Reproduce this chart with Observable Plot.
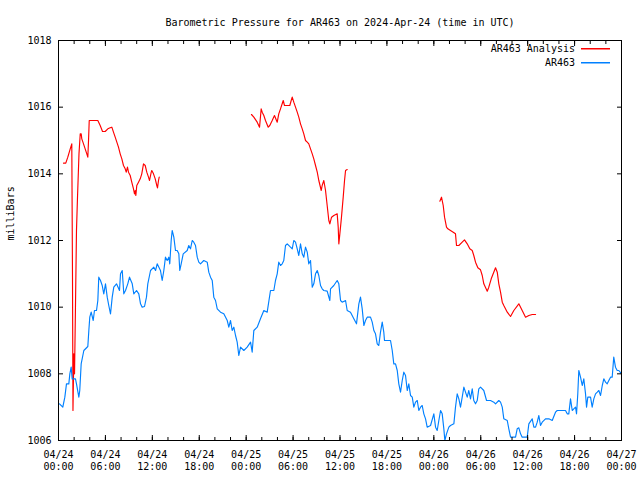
<!DOCTYPE html>
<html><head><meta charset="utf-8">
<script src="https://cdn.jsdelivr.net/npm/d3@7"></script>
<script src="https://cdn.jsdelivr.net/npm/@observablehq/plot@0.6"></script>
<style>
body{margin:0;background:#fff;}
#wrap{position:relative;width:640px;height:480px;font-family:"DejaVu Sans Mono",monospace;font-size:10px;color:#000;}
#legend{position:absolute;left:0;top:0;pointer-events:none;}
</style></head><body><div id="wrap"></div>
<script>
const title = "Barometric Pressure for AR463 on 2024-Apr-24 (time in UTC)";
const yLabel = "milliBars";
const seriesNames = ["AR463 Analysis", "AR463"];
const seriesColors = ["#ff0000", "#0080ff"];

const xTickHours = [0,6,12,18,24,30,36,42,48,54,60,66,72];
const xTickDates = ["04/24","04/24","04/24","04/24","04/25","04/25","04/25","04/25","04/26","04/26","04/26","04/26","04/27"];
const xTickTimes = ["00:00","06:00","12:00","18:00","00:00","06:00","12:00","18:00","00:00","06:00","12:00","18:00","00:00"];
const xMinorHours = [0,2,4,6,8,10,12,14,16,18,20,22,24,26,28,30,32,34,36,38,40,42,44,46,48,50,52,54,56,58,60,62,64,66,68,70,72];
const yTicks = [1006,1008,1010,1012,1014,1016,1018];

// AR463 observed: hours since 04/24 00:00 UTC
const blueHours = [0.13,0.55,0.81,1.02,1.32,1.45,1.62,1.75,2.17,2.30,2.60,2.72,2.90,3.24,3.75,3.88,4.00,4.18,4.44,4.60,4.86,5.03,5.15,5.37,5.59,5.79,6.01,6.23,6.43,6.65,6.87,7.07,7.42,7.80,7.93,8.15,8.35,8.57,8.86,9.08,9.43,9.63,9.98,10.27,10.49,10.70,11.00,11.25,11.42,11.77,12.19,12.41,12.62,13.04,13.26,13.47,13.68,13.90,14.11,14.23,14.41,14.54,14.75,14.96,15.18,15.39,15.51,15.69,15.95,16.46,16.66,16.88,17.10,17.30,17.52,17.74,17.94,18.16,18.58,19.02,19.22,19.44,19.66,19.86,20.08,20.30,20.72,21.14,21.58,21.78,22.00,22.21,22.42,22.64,22.85,23.06,23.28,23.70,24.13,24.56,24.77,24.98,25.41,25.83,26.26,26.69,27.11,27.54,27.75,27.97,28.17,28.39,28.61,28.81,29.03,29.25,29.67,29.89,30.09,30.31,30.53,30.73,30.95,31.17,31.37,31.59,31.81,32.01,32.23,32.45,32.65,32.87,33.09,33.29,33.51,33.72,33.93,34.36,34.70,34.79,35.21,35.64,35.85,36.07,36.28,36.71,36.92,37.34,37.77,38.11,38.41,38.62,38.84,39.05,39.26,39.48,39.90,40.12,40.33,40.54,40.76,40.96,41.18,41.40,41.60,41.69,42.46,42.68,42.88,43.10,43.32,43.52,43.74,43.96,44.16,44.38,44.60,44.80,45.02,45.24,45.44,45.66,45.88,46.08,46.30,46.51,46.72,46.94,47.15,47.58,48.00,48.22,48.43,48.64,48.86,49.07,49.28,49.41,49.62,49.92,50.13,50.56,50.77,50.99,51.20,51.41,51.63,51.84,52.05,52.27,52.47,52.69,52.91,53.11,53.33,53.55,53.75,53.97,54.39,54.74,55.25,55.67,55.89,56.31,56.53,56.75,56.95,57.39,57.59,57.81,58.45,58.66,58.87,59.09,59.30,59.94,60.15,60.58,60.79,61.01,61.22,61.43,61.64,61.86,62.28,62.71,63.14,63.56,63.78,64.84,65.06,65.26,65.48,65.70,65.90,66.12,66.25,66.41,66.54,66.76,66.98,67.18,67.40,67.53,67.69,68.04,68.25,68.46,68.68,68.90,69.10,69.32,69.54,69.74,69.96,70.17,70.38,70.60,70.81,71.01,71.23,71.45,71.66,72.00];
const bluePressure = [1007.10,1007.00,1007.30,1007.70,1007.70,1008.00,1008.20,1007.85,1007.85,1007.70,1007.30,1007.50,1008.30,1008.70,1008.82,1009.30,1009.70,1009.85,1009.60,1009.90,1009.90,1010.20,1010.90,1010.80,1010.65,1010.40,1010.70,1010.30,1010.05,1009.80,1010.30,1010.60,1010.70,1010.50,1011.00,1011.10,1010.40,1010.50,1010.70,1010.90,1010.70,1010.40,1010.50,1010.40,1010.10,1010.00,1010.02,1010.30,1010.70,1011.10,1011.20,1011.10,1011.30,1011.10,1010.80,1011.10,1011.50,1011.40,1011.50,1011.30,1012.00,1012.30,1012.10,1011.70,1011.70,1011.60,1011.10,1011.30,1011.60,1011.70,1011.85,1011.75,1012.00,1011.95,1011.85,1011.50,1011.35,1011.30,1011.40,1011.35,1011.05,1010.90,1010.80,1010.30,1010.20,1009.95,1009.85,1009.80,1009.60,1009.40,1009.60,1009.30,1009.40,1009.15,1008.95,1008.55,1008.80,1008.70,1008.80,1008.95,1008.65,1009.30,1009.40,1009.65,1009.90,1009.85,1010.50,1010.50,1010.80,1011.00,1011.35,1011.25,1011.30,1011.40,1011.85,1011.90,1011.80,1011.75,1012.00,1011.95,1011.75,1011.55,1011.90,1011.60,1011.50,1011.80,1011.65,1011.30,1011.40,1010.60,1010.70,1011.00,1011.10,1010.95,1010.65,1010.55,1010.50,1010.48,1010.20,1010.55,1010.65,1010.80,1010.70,1010.20,1010.15,1010.20,1009.90,1009.85,1009.65,1009.50,1010.10,1010.30,1009.95,1009.45,1009.60,1009.70,1009.70,1009.55,1009.30,1009.20,1008.90,1008.85,1009.25,1009.55,1009.25,1009.00,1009.00,1008.70,1008.30,1008.30,1008.10,1007.70,1007.45,1007.80,1008.05,1007.95,1007.50,1007.70,1007.35,1007.30,1007.00,1007.15,1007.20,1006.90,1007.00,1007.05,1006.80,1006.65,1006.40,1006.45,1006.80,1006.40,1006.30,1006.60,1006.90,1006.80,1006.35,1006.00,1006.20,1006.40,1006.45,1006.50,1007.00,1007.40,1007.25,1007.00,1007.30,1007.60,1007.45,1007.30,1007.50,1007.25,1007.55,1007.20,1007.10,1007.20,1007.55,1007.60,1007.50,1007.20,1007.20,1007.15,1007.10,1007.20,1007.15,1007.00,1006.65,1006.60,1006.35,1006.10,1006.10,1006.35,1006.38,1006.20,1006.10,1006.10,1006.50,1006.65,1006.40,1006.40,1006.55,1006.75,1006.45,1006.55,1006.65,1006.65,1006.60,1006.85,1006.90,1006.90,1006.80,1006.80,1007.25,1006.90,1006.95,1007.00,1006.80,1007.40,1008.10,1007.90,1007.65,1007.85,1007.40,1007.00,1007.30,1007.30,1007.00,1007.25,1007.40,1007.45,1007.50,1007.35,1007.65,1007.85,1007.75,1007.70,1007.80,1007.90,1007.90,1008.50,1008.20,1008.10,1008.10,1008.00];

// AR463 Analysis: null entries mark gaps between segments
const redHours = [0.64,0.93,1.19,1.50,1.70,1.79,1.85,1.96,2.05,2.17,2.30,2.43,2.62,2.78,2.90,2.98,3.20,3.41,3.62,3.75,3.84,3.93,5.03,5.33,5.63,5.97,6.31,6.61,6.82,7.03,7.25,7.46,7.67,7.89,8.10,8.31,8.53,8.66,8.82,8.95,9.17,9.37,9.59,9.72,9.81,9.89,10.01,10.23,10.45,10.65,10.87,11.09,11.29,11.51,11.64,11.86,11.93,12.15,12.37,12.57,12.66,12.79,12.88,
  18.0,
  24.68,24.98,25.41,25.71,25.92,26.05,26.26,26.47,26.82,27.02,27.33,27.62,27.97,28.17,28.39,28.74,28.90,29.58,29.76,29.89,30.09,30.31,30.53,30.73,30.95,31.17,31.37,31.59,31.81,32.01,32.23,32.45,32.65,32.87,33.09,33.29,33.60,33.72,33.93,34.15,34.36,34.57,34.70,34.92,35.21,35.64,35.77,35.85,35.98,36.19,36.41,36.58,36.71,36.92,
  42.0,
  48.77,48.98,49.20,49.37,49.62,49.79,50.13,50.48,50.77,50.90,51.20,51.63,51.92,52.27,52.60,52.91,53.11,53.33,53.63,53.97,54.19,54.39,54.83,55.03,55.34,55.89,56.11,56.31,56.53,56.75,56.95,57.39,57.81,58.23,58.87,59.30,59.73,60.15,60.58,61.01];
const redPressure = [1014.32,1014.32,1014.50,1014.75,1014.90,1010.90,1006.90,1008.60,1008.00,1010.00,1012.30,1013.30,1014.60,1015.20,1015.20,1015.05,1014.90,1014.75,1014.60,1014.50,1015.00,1015.60,1015.60,1015.45,1015.27,1015.27,1015.35,1015.38,1015.40,1015.25,1015.10,1014.95,1014.80,1014.60,1014.45,1014.25,1014.15,1014.05,1014.20,1014.05,1013.95,1013.75,1013.55,1013.40,1013.50,1013.35,1013.65,1013.75,1013.85,1014.00,1014.30,1014.25,1014.05,1013.90,1013.80,1014.05,1014.10,1014.00,1013.85,1013.65,1013.58,1013.80,1013.90,
  null,
  1015.78,1015.70,1015.55,1015.40,1015.95,1015.85,1015.75,1015.60,1015.40,1015.45,1015.60,1015.75,1015.55,1015.80,1015.95,1016.20,1016.05,1016.05,1016.20,1016.30,1016.15,1016.00,1015.85,1015.70,1015.50,1015.35,1015.20,1015.00,1014.95,1014.90,1014.75,1014.60,1014.45,1014.25,1014.05,1013.80,1013.50,1013.65,1013.80,1013.50,1013.05,1012.60,1012.50,1012.70,1012.75,1012.80,1012.40,1011.90,1012.20,1012.70,1013.30,1013.80,1014.10,1014.13,
  null,
  1013.18,1013.30,1013.05,1012.70,1012.40,1012.35,1012.30,1012.25,1012.20,1011.85,1011.85,1011.95,1012.02,1011.90,1011.75,1011.70,1011.55,1011.35,1011.18,1011.12,1010.95,1010.70,1010.48,1010.60,1010.85,1011.18,1011.05,1010.70,1010.45,1010.15,1010.05,1009.85,1009.72,1009.90,1010.10,1009.90,1009.70,1009.75,1009.78,1009.78];

const blue = blueHours.map((h, i) => ({h, p: bluePressure[i]}));
const red = redHours.map((h, i) => ({h, p: redPressure[i]}));
const tickLabel = new Map(xTickHours.map((h, i) => [h, xTickDates[i] + "\n" + xTickTimes[i]]));
const blank = () => "";

const chart = Plot.plot({
  width: 640, height: 480,
  marginLeft: 58, marginRight: 19, marginTop: 40, marginBottom: 40,
  style: {fontFamily: "DejaVu Sans Mono, monospace", fontSize: "10px", color: "#000", background: "#fff"},
  x: {type: "linear", domain: [0, 72]},
  y: {domain: [1006, 1018]},
  marks: [
    Plot.line(red, {x: "h", y: "p", stroke: seriesColors[0], strokeWidth: 1.15, clip: true}),
    Plot.line(blue, {x: "h", y: "p", stroke: seriesColors[1], strokeWidth: 1.15, clip: true}),
    Plot.frame({stroke: "#000", strokeWidth: 1}),
    Plot.axisX({anchor: "bottom", ticks: xTickHours, tickSize: 0, tickPadding: 9, tickFormat: h => tickLabel.get(h), lineHeight: 1.2, label: null}),
    Plot.axisX({anchor: "bottom", ticks: xTickHours, tickSize: -5, tickFormat: blank, label: null}),
    Plot.axisX({anchor: "bottom", ticks: xMinorHours, tickSize: -3, tickFormat: blank, label: null}),
    Plot.axisX({anchor: "top", ticks: xTickHours, tickSize: -5, tickFormat: blank, label: null}),
    Plot.axisX({anchor: "top", ticks: xMinorHours, tickSize: -3, tickFormat: blank, label: null}),
    Plot.axisY({anchor: "left", ticks: yTicks, tickSize: 0, tickPadding: 7, tickFormat: d => String(d), label: null}),
    Plot.axisY({anchor: "left", ticks: yTicks, tickSize: -5, tickFormat: blank, label: null}),
    Plot.axisY({anchor: "right", ticks: yTicks, tickSize: -5, tickFormat: blank, label: null}),
    Plot.text([title], {frameAnchor: "top", dy: -22, fill: "#000"}),
    Plot.text([yLabel], {frameAnchor: "left", dx: -48, rotate: -90, fill: "#000"})
  ]
});

const wrap = document.getElementById("wrap");
wrap.appendChild(chart);

// legend overlay (drawn above the plot, top-right inside the frame)
const leg = d3.select(wrap).append("svg")
  .attr("id", "legend").attr("width", 640).attr("height", 480)
  .style("font-family", "DejaVu Sans Mono, monospace").style("font-size", "10px");
seriesNames.forEach((name, i) => {
  const cy = 49 + 14 * i;
  leg.append("text").attr("x", 575).attr("y", cy).attr("dy", "0.32em")
    .attr("text-anchor", "end").attr("fill", "#000").text(name);
  leg.append("rect").attr("x", 581).attr("width", 29).attr("y", cy - 1).attr("height", 1.5)
    .attr("fill", seriesColors[i]);
});
</script></body></html>
